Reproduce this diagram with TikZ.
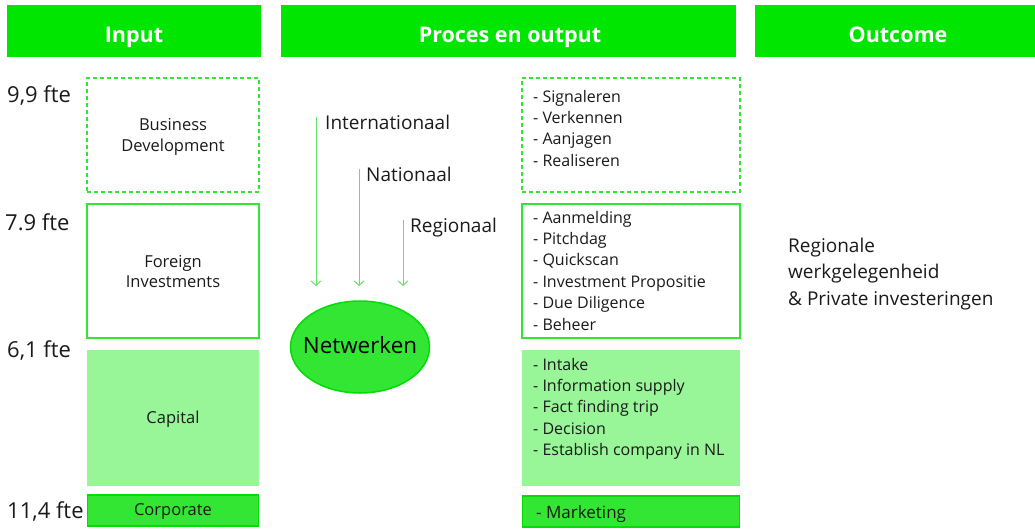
\documentclass[tikz,border=0pt]{standalone}
\usepackage{fontspec}
\setmainfont{Open Sans}
\usetikzlibrary{arrows.meta,shapes.geometric}
\definecolor{hdrgreen}{HTML}{00E600}
\definecolor{boxline}{HTML}{33E633}
\definecolor{lightfill}{HTML}{98F598}
\definecolor{midfill}{HTML}{33E633}
\definecolor{darkline}{HTML}{00DD00}
\definecolor{arrcol}{HTML}{66E066}
\definecolor{txt}{HTML}{1A1A1A}
\tikzset{
  hdr/.style={fill=hdrgreen, minimum height=52pt, inner sep=0pt},
  hdrtext/.style={text=white, font=\fontsize{21.5}{24}\selectfont\bfseries, anchor=base, inner sep=0pt},
  dbox/.style={draw=boxline, dashed, line width=1.2pt, dash pattern=on 4pt off 3pt, minimum width=172pt, inner sep=0pt},
  sbox/.style={draw=boxline, line width=1.2pt, minimum width=172pt, inner sep=0pt},
  lbox/.style={fill=lightfill, minimum width=172pt, inner sep=0pt},
  cbox/.style={fill=midfill, draw=darkline, line width=1.5pt, minimum width=171pt, inner sep=0pt},
  rdbox/.style={draw=boxline, dashed, line width=1.2pt, dash pattern=on 4pt off 3pt, minimum width=218pt, inner sep=0pt},
  rsbox/.style={draw=boxline, line width=1.2pt, minimum width=218pt, inner sep=0pt},
  rlbox/.style={fill=lightfill, minimum width=218pt, inner sep=0pt},
  rcbox/.style={fill=midfill, draw=darkline, line width=1.5pt, minimum width=217pt, inner sep=0pt},
  intext/.style={text=txt, font=\fontsize{16.5}{20.7}\selectfont, align=center, inner sep=0pt},
  list/.style={text=txt, font=\fontsize{16}{21.4}\selectfont, align=left, anchor=north west, inner sep=0pt},
  fte/.style={text=txt, font=\fontsize{22}{24}\selectfont, anchor=base west, inner sep=0pt},
  lvl/.style={text=txt, font=\fontsize{19}{22}\selectfont, anchor=base west, inner sep=0pt},
  arr/.style={draw=arrcol, line width=1pt, -{Straight Barb[length=4.5pt,width=10pt]}},
}
\begin{document}
\begin{tikzpicture}[x=1pt,y=-1pt]
\useasboundingbox (0,0) rectangle (1035,528);
% headers
\node[hdr, minimum width=254pt] (hin) at (134,31) {};
\node[hdrtext] (hint) at (134,42.3) {Input};
\node[hdr, minimum width=455pt] (hpr) at (508.5,31) {};
\node[hdrtext] (hprt) at (510,42.3) {Proces en output};
\node[hdr, minimum width=280pt] (hout) at (895,31) {};
\node[hdrtext] (houtt) at (898,42.3) {Outcome};
% fte labels
\node[fte] (f1) at (7,102) {9,9 fte};
\node[fte] (f2) at (5,230) {7.9 fte};
\node[fte] (f3) at (7,357) {6,1 fte};
\node[fte] (f4) at (7,518) {11,4 fte};
% left boxes
\node[dbox, minimum height=114pt] (bd) at (173,135) {};
\node[intext] (bdt) at (173,137) {Business\\Development};
\node[sbox, minimum height=134pt] (fi) at (173,271) {};
\node[intext] (fit) at (173,271.5) {Foreign\\Investments};
\node[lbox, minimum height=136pt] (ca) at (173,418) {};
\node[intext, anchor=base] (cat) at (173,423.3) {Capital};
\node[cbox, minimum height=31pt] (co) at (173,510.5) {};
\node[intext, anchor=base] (cot) at (173,515) {Corporate};
% right boxes
\node[rdbox, minimum height=114pt] (rbd) at (631,135) {};
\node[list] (rbdt) at (533,89.8) {- Signaleren\\- Verkennen\\- Aanjagen\\- Realiseren};
\node[rsbox, minimum height=134pt] (rfi) at (631,271) {};
\node[list] (rfit) at (533,210.8) {- Aanmelding\\- Pitchdag\\- Quickscan\\- Investment Propositie\\- Due Diligence\\- Beheer};
\node[rlbox, minimum height=136pt] (rca) at (631,418) {};
\node[list] (rcat) at (533,357.8) {- Intake\\- Information supply\\- Fact finding trip\\- Decision\\- Establish company in NL};
\node[rcbox, minimum height=31pt] (rco) at (631,511.5) {};
\node[list, anchor=base west, font=\fontsize{17}{20}\selectfont] (rcot) at (536,518) {- Marketing};
% network
\node[ellipse, fill=midfill, draw=darkline, line width=1.5pt, minimum width=139pt, minimum height=92pt, inner sep=0pt] (net) at (360,347) {};
\node[text=black, font=\fontsize{22.4}{26}\selectfont, anchor=base, inner sep=0pt] (nett) at (360,353.3) {Netwerken};
\coordinate (a1s) at (316,117); \coordinate (a1e) at (316,286);
\coordinate (a2s) at (359,169); \coordinate (a2e) at (359,286);
\coordinate (a3s) at (403,220); \coordinate (a3e) at (403,286);
\draw[arr] (a1s) -- (a1e);
\draw[arr] (a2s) -- (a2e);
\draw[arr] (a3s) -- (a3e);
\node[lvl] (l1) at (325,129) {Internationaal};
\node[lvl] (l2) at (366,181) {Nationaal};
\node[lvl] (l3) at (410,232.7) {Regionaal};
% outcome
\node[text=txt, font=\fontsize{19}{26.6}\selectfont, align=left, anchor=north west, inner sep=0pt] (oc) at (788,237.5) {Regionale\\werkgelegenheid\\\& Private investeringen};
\end{tikzpicture}
\end{document}
